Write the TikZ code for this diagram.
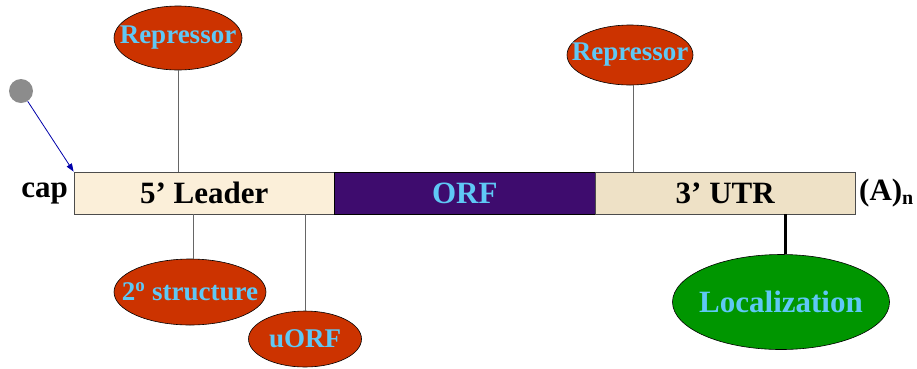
\documentclass[tikz,border=0pt]{standalone}
\usepackage{fontspec}
\setmainfont{Liberation Serif}
\usetikzlibrary{shapes.geometric,arrows.meta}
\definecolor{repred}{RGB}{204,51,0}
\definecolor{txtblue}{RGB}{95,200,245}
\definecolor{locgreen}{RGB}{0,150,0}
\definecolor{leadfill}{RGB}{251,239,217}
\definecolor{utrfill}{RGB}{238,225,198}
\definecolor{orffill}{RGB}{62,12,110}
\definecolor{capblue}{RGB}{0,0,170}
\tikzset{
  seg/.style={rectangle, draw=black!70, line width=0.8pt, minimum width=260.5pt, minimum height=42pt, inner sep=0pt, font=\fontsize{31}{31}\selectfont\bfseries},
  oval/.style={ellipse, draw=black, line width=0.6pt, fill=repred, inner sep=0pt},
  ovaltext/.style={text=txtblue, inner sep=0pt, font=\fontsize{27}{27}\selectfont\bfseries},
  tie/.style={draw=black!60, line width=1pt},
  lbl/.style={font=\fontsize{31}{31}\selectfont\bfseries, inner sep=0pt}
}
\begin{document}
\begin{tikzpicture}[x=1pt,y=-1pt]
\useasboundingbox (0,0) rectangle (917,368);
% bar
\node[seg, fill=leadfill] (lead) at (204.25,193) {5’ Leader};
\node[seg, fill=orffill, draw=black, text=txtblue] (orf) at (464.75,193) {ORF};
\node[seg, fill=utrfill] (utr) at (725.25,193) {3’ UTR};
\node[lbl, anchor=east] (cap) at (68,193) {cap};
\node[lbl, anchor=west] (polya) at (859,193) {(A)\textsubscript{\fontsize{20}{20}\selectfont n}};
% cap dot
\node[circle, fill=black!45, minimum size=24pt, inner sep=0pt] (dot) at (21,91) {};
\draw[capblue, line width=0.8pt, -{Triangle[length=8pt,width=6pt]}] (dot) -- (lead.north west);
% ovals
\node[oval, minimum width=128pt, minimum height=64pt] (rep1) at (178,38) {};
\node[ovaltext] (rep1t) at (rep1.center) {Repressor};
\node[oval, minimum width=126pt, minimum height=60pt] (rep2) at (630,55) {};
\node[ovaltext] (rep2t) at (rep2.center) {Repressor};
\node[oval, minimum width=152pt, minimum height=66pt] (sec) at (190,292) {};
\node[ovaltext] (sect) at (sec.center) {2\textsuperscript{o} structure};
\node[oval, minimum width=113pt, minimum height=56pt] (uorf) at (305,339) {};
\node[ovaltext] (uorft) at (uorf.center) {uORF};
\node[oval, fill=locgreen, minimum width=217pt, minimum height=95pt] (loc) at (781,302) {};
\node[ovaltext, font=\fontsize{31}{31}\selectfont\bfseries] (loct) at (loc.center) {Localization};
% connectors
\coordinate (r1b) at (178,172);
\draw[tie] (rep1) -- (r1b);
\coordinate (r2b) at (633,172);
\draw[tie] (rep2.south -| r2b) -- (r2b);
\coordinate (s2t) at (193,214);
\draw[tie] (s2t) -- (sec.north -| s2t);
\coordinate (uot) at (305,214);
\draw[tie] (uot) -- (uorf);
\coordinate (lot) at (785,214);
\draw[black, line width=3pt] (lot) -- (loc.north -| lot);
\end{tikzpicture}
\end{document}
